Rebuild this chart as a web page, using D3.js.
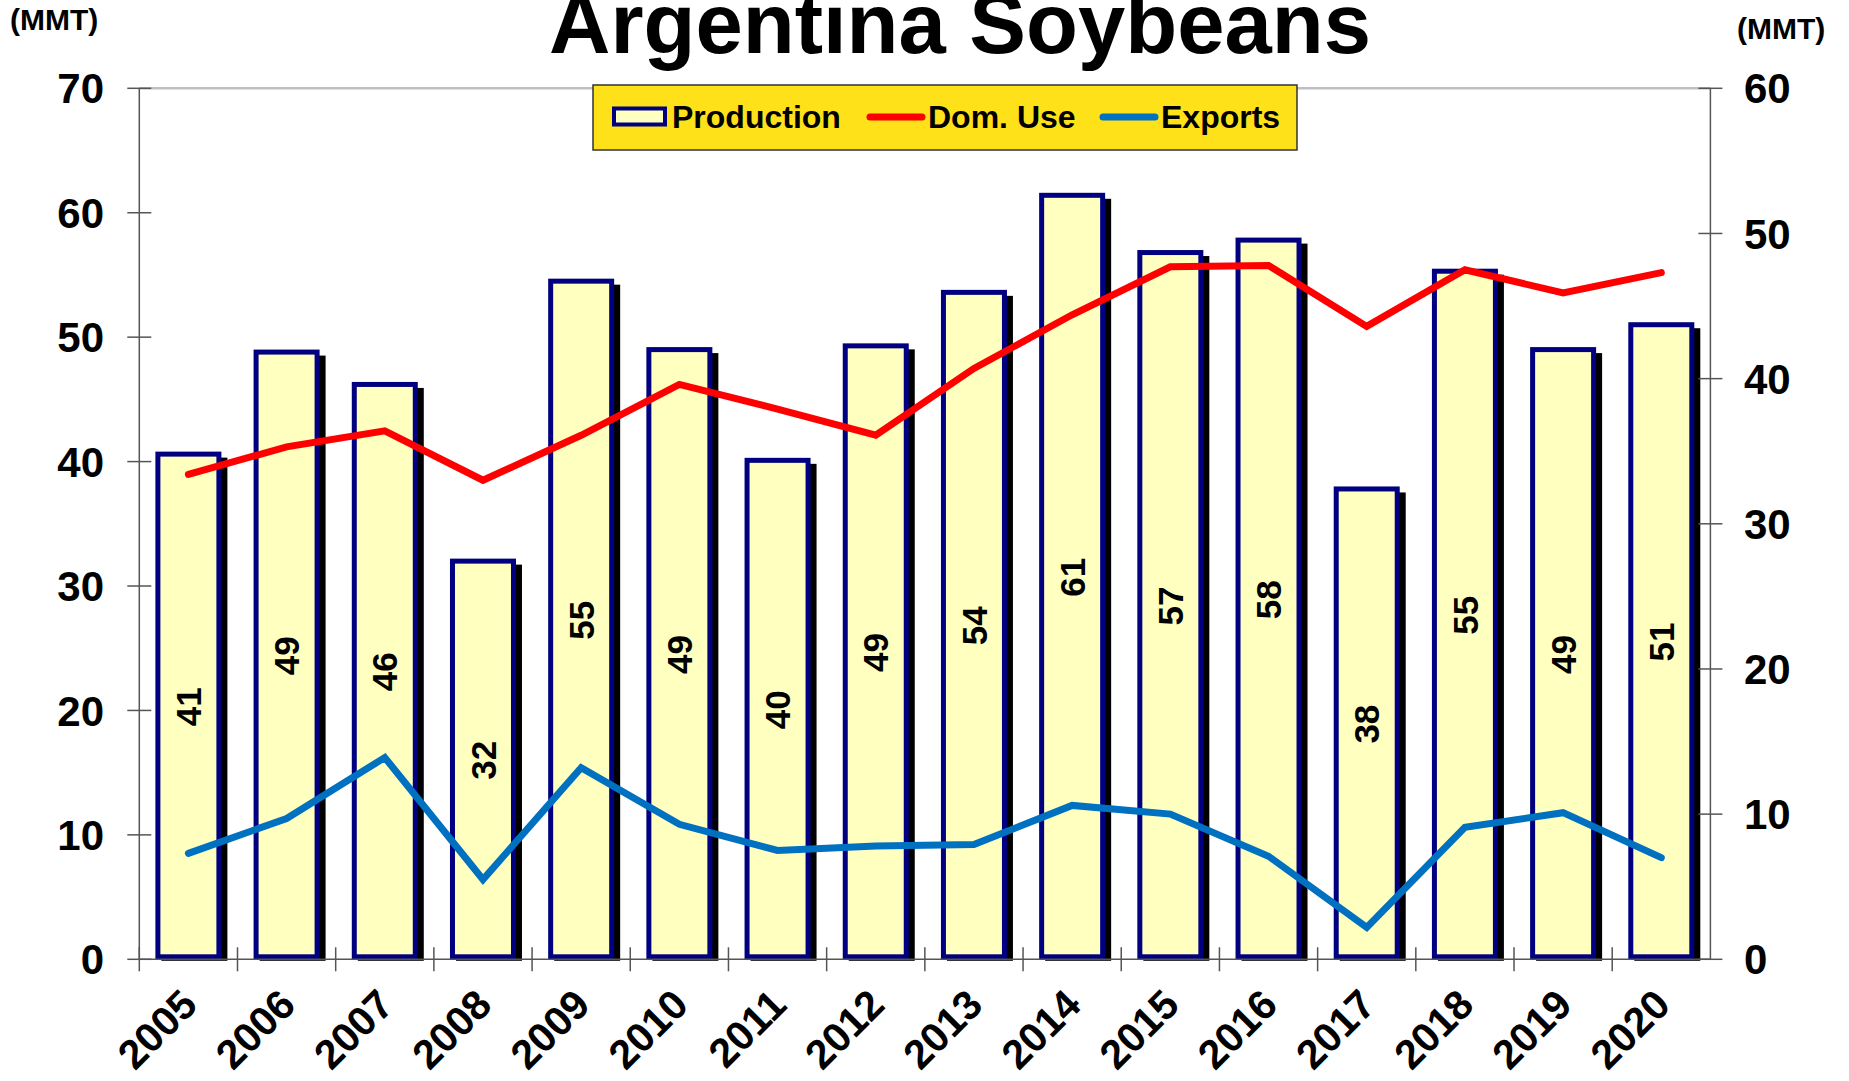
<!DOCTYPE html>
<html>
<head>
<meta charset="utf-8">
<script src="https://cdn.jsdelivr.net/npm/d3@7"></script>
<style>
  body { margin: 0; background: #fff; }
  text { font-family: "Liberation Sans", Arial, sans-serif; font-weight: bold; }
</style>
</head>
<body>
<div id="chart"></div>
<script>
var width = 1849, height = 1081;

// data
var years = ['2005','2006','2007','2008','2009','2010','2011','2012','2013','2014','2015','2016','2017','2018','2019','2020'];
var production = [40.6, 48.8, 46.2, 32.0, 54.5, 49.0, 40.1, 49.3, 53.6, 61.4, 56.8, 57.8, 37.8, 55.3, 49.0, 51.0];
var domUse = [33.4, 35.3, 36.4, 33.0, 36.1, 39.6, 37.9, 36.1, 40.7, 44.4, 47.7, 47.8, 43.6, 47.5, 45.9, 47.3];
var exportVals = [7.3, 9.7, 13.9, 5.5, 13.2, 9.3, 7.5, 7.8, 7.9, 10.6, 10.0, 7.1, 2.2, 9.1, 10.1, 7.0];
var leftTicks = [0, 10, 20, 30, 40, 50, 60, 70];
var rightTicks = [0, 10, 20, 30, 40, 50, 60];

var svg = d3.select('#chart').append('svg')
	.attr('width', width)
	.attr('height', height);

var pLeft = 139.3, pRight = 1710.4, pTop = 88.3, pBottom = 959.3;

var x = d3.scaleBand().domain(years).range([pLeft, pRight]);
var yL = d3.scaleLinear().domain([0, 70]).range([pBottom, pTop]);
var yR = d3.scaleLinear().domain([0, 60]).range([pBottom, pTop]);
var bw = x.bandwidth();
var barW = 61;

// title (sits partly above the top edge, as in the original)
svg.append('text')
	.attr('x', 960).attr('y', 53)
	.attr('text-anchor', 'middle')
	.style('font-size', '85px')
	.text('Argentina Soybeans');

svg.append('text').attr('x', 10).attr('y', 30).style('font-size', '30px').text('(MMT)');
svg.append('text').attr('x', 1737).attr('y', 39).style('font-size', '30px').text('(MMT)');

// plot top border
svg.append('line')
	.attr('x1', pLeft).attr('x2', pRight)
	.attr('y1', pTop).attr('y2', pTop)
	.style('stroke', '#c0c0c0').style('stroke-width', 2.5);

// bars: shadow then bar
svg.selectAll('rect.shadow')
	.data(production)
	.enter().append('rect')
	.attr('class', 'shadow')
	.attr('x', function(d, i) { return x(years[i]) + bw/2 - barW/2 + 6; })
	.attr('y', function(d) { return yL(d) + 6; })
	.attr('width', barW)
	.attr('height', function(d) { return yL(0) - yL(d) - 7; })
	.style('fill', '#000')
	.style('stroke', '#000')
	.style('stroke-width', 5);

svg.selectAll('rect.bar')
	.data(production)
	.enter().append('rect')
	.attr('class', 'bar')
	.attr('x', function(d, i) { return x(years[i]) + bw/2 - barW/2; })
	.attr('y', function(d) { return yL(d); })
	.attr('width', barW)
	.attr('height', function(d) { return yL(0) - yL(d) - 2.5; })
	.style('fill', '#ffffc0')
	.style('stroke', '#000080')
	.style('stroke-width', 5);

// axes
var axisColor = '#555';
svg.append('line').attr('x1', pLeft).attr('x2', pLeft).attr('y1', pTop).attr('y2', pBottom)
	.style('stroke', axisColor).style('stroke-width', 1.5);
svg.append('line').attr('x1', pRight).attr('x2', pRight).attr('y1', pTop).attr('y2', pBottom)
	.style('stroke', axisColor).style('stroke-width', 1.5);
svg.append('line').attr('x1', pLeft).attr('x2', pRight).attr('y1', pBottom).attr('y2', pBottom)
	.style('stroke', axisColor).style('stroke-width', 1.5);

svg.selectAll('line.ltick')
	.data(leftTicks)
	.enter().append('line')
	.attr('x1', pLeft - 12).attr('x2', pLeft + 12)
	.attr('y1', function(d) { return yL(d); })
	.attr('y2', function(d) { return yL(d); })
	.style('stroke', axisColor).style('stroke-width', 1.5);

svg.selectAll('text.llab')
	.data(leftTicks)
	.enter().append('text')
	.attr('x', 104)
	.attr('y', function(d) { return yL(d); })
	.attr('dy', '0.36em')
	.attr('text-anchor', 'end')
	.style('font-size', '42px')
	.text(function(d) { return d; });

svg.selectAll('line.rtick')
	.data(rightTicks)
	.enter().append('line')
	.attr('x1', pRight - 12).attr('x2', pRight + 12)
	.attr('y1', function(d) { return yR(d); })
	.attr('y2', function(d) { return yR(d); })
	.style('stroke', axisColor).style('stroke-width', 1.5);

svg.selectAll('text.rlab')
	.data(rightTicks)
	.enter().append('text')
	.attr('x', 1744)
	.attr('y', function(d) { return yR(d); })
	.attr('dy', '0.36em')
	.style('font-size', '42px')
	.text(function(d) { return d; });

// x ticks at band edges
svg.selectAll('line.xtick')
	.data(years)
	.enter().append('line')
	.attr('x1', function(d) { return x(d); })
	.attr('x2', function(d) { return x(d); })
	.attr('y1', pBottom - 12).attr('y2', pBottom + 12)
	.style('stroke', axisColor).style('stroke-width', 1.5);

svg.selectAll('text.xlab')
	.data(years)
	.enter().append('text')
	.attr('transform', function(d) {
		return 'translate(' + (x(d) + bw/2 + 11) + ',' + 1007 + ') rotate(-45)';
	})
	.attr('text-anchor', 'end')
	.style('font-size', '41px')
	.text(function(d) { return d; });

// lines
var lineR = d3.line()
	.x(function(d, i) { return x(years[i]) + bw/2; })
	.y(function(d) { return yR(d); });

svg.append('path')
	.datum(domUse)
	.attr('d', lineR)
	.style('fill', 'none')
	.style('stroke', '#ff0000')
	.style('stroke-width', 7)
	.style('stroke-linecap', 'round');

svg.append('path')
	.datum(exportVals)
	.attr('d', lineR)
	.style('fill', 'none')
	.style('stroke', '#0070c0')
	.style('stroke-width', 7)
	.style('stroke-linecap', 'round');

// bar labels
svg.selectAll('text.vlab')
	.data(production)
	.enter().append('text')
	.attr('transform', function(d, i) {
		return 'translate(' + (x(years[i]) + bw/2) + ',' + ((yL(d) + yL(0)) / 2) + ') rotate(-90)';
	})
	.attr('text-anchor', 'middle')
	.attr('dy', '0.36em')
	.style('font-size', '35px')
	.text(function(d) { return Math.round(d); });

// legend
var lg = svg.append('g');
lg.append('rect')
	.attr('x', 593).attr('y', 85).attr('width', 704).attr('height', 65)
	.style('fill', '#ffe11a').style('stroke', '#333').style('stroke-width', 1.5);
lg.append('rect')
	.attr('x', 614).attr('y', 108.5).attr('width', 51).attr('height', 16)
	.style('fill', '#ffffc0').style('stroke', '#000080').style('stroke-width', 4);
lg.append('text').attr('x', 672).attr('y', 128).style('font-size', '32px').text('Production');
lg.append('line').attr('x1', 870).attr('x2', 922).attr('y1', 117).attr('y2', 117)
	.style('stroke', '#ff0000').style('stroke-width', 7).style('stroke-linecap', 'round');
lg.append('text').attr('x', 928).attr('y', 128).style('font-size', '32px').text('Dom. Use');
lg.append('line').attr('x1', 1103).attr('x2', 1155).attr('y1', 117).attr('y2', 117)
	.style('stroke', '#0070c0').style('stroke-width', 7).style('stroke-linecap', 'round');
lg.append('text').attr('x', 1161).attr('y', 128).style('font-size', '32px').text('Exports');
</script>
</body>
</html>
